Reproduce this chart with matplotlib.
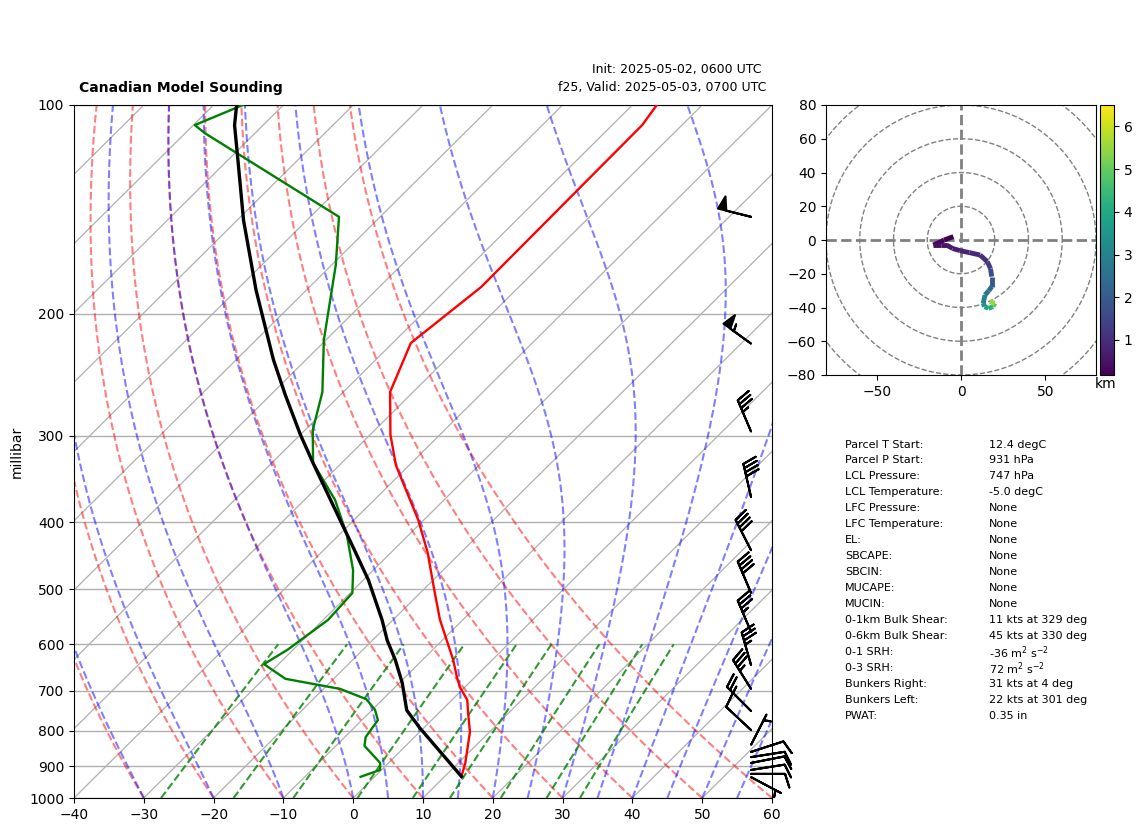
import numpy as np
import matplotlib
matplotlib.use('Agg')
import matplotlib.pyplot as plt
from matplotlib.collections import LineCollection

# sounding
p_temp = [931, 890, 803, 754, 722, 692, 669, 632, 553, 501, 442, 397, 331, 299, 259.5, 220.5, 183, 106.9, 100]
temp = [12.4, 11.0, 7.2, 4.2, 2.2, -0.7, -2.6, -5.6, -13.3, -18.4, -24.8, -30.8, -41.9, -47.1, -53.3, -57.4, -55.4, -55.7, -56.5]

p_dew = [932, 911, 890, 841, 817, 772, 746, 720, 696, 673, 641, 611, 553, 506, 469, 417, 371.5, 328.5, 294.4, 259.5, 218.3, 170.2, 145, 109.8, 106.9, 100]
dewp = [-2.0, -0.2, -1.2, -5.9, -7.0, -7.7, -9.6, -12.4, -17.6, -26.9, -32.1, -30.8, -29.3, -29.7, -32.9, -38.9, -45.6, -54.1, -58.9, -63.0, -70.3, -79.4, -85.9, -117.2, -119.8, -115.8]

p_parcel = [931, 792, 747, 682, 632, 592, 553, 484.5, 436, 397, 328.5, 299, 262, 233, 185, 146.6, 120, 106.9, 100]
t_parcel = [12.4, -0.6, -5.0, -9.6, -13.9, -17.9, -21.6, -29.3, -36.0, -42.0, -54.1, -60.0, -67.9, -74.7, -87.2, -99.1, -108.6, -114.1, -116.7]

# wind barbs
p_wind = [145, 221, 296, 368, 439, 506, 576, 643, 696, 749, 798, 838, 858, 873, 890, 911, 923, 933]
wdir = [284, 306, 337, 347, 333, 337, 337, 344, 328, 315, 313, 27, 72, 81, 79, 81, 90, 118]
wspd = [50, 55, 35, 40, 40, 40, 35, 35, 35, 25, 10, 5, 10, 10, 10, 10, 10, 5]

# hodograph
hodo_u = [-4.5, -10, -16.4, -12, -8.5, -5, -0.6, 5, 11.3, 15.6, 17.5, 18.2, 18.2, 16.5, 14.2, 13.2, 14, 16.2, 19, 20, 17]
hodo_v = [2, 0, -3, -3, -3, -5, -6.3, -7.5, -8.9, -12.8, -17, -21.7, -27.7, -30, -32.6, -37.5, -39.5, -40.5, -39.5, -37.5, -36.6]
hodo_z = [0.2, 0.3, 0.4, 0.5, 0.6, 0.7, 0.8, 0.9, 1.0, 1.3, 1.6, 1.9, 2.3, 2.7, 3.0, 3.4, 3.8, 4.2, 4.8, 5.5, 6.5]
hodo_rings = [20, 40, 60, 80, 100]

# background lines
dry_t0 = [-30, -20, -10, 0, 10, 20, 30, 40, 50, 60]
moist_t0 = [-40, -30, -20, -10, 0, 5, 10, 15, 20, 25, 30, 35, 40, 45, 50, 55]
mix_ratio = [0.0004, 0.001, 0.002, 0.004, 0.007, 0.01, 0.016, 0.024, 0.032]
isotherms = list(range(-140, 70, 10))
x_ticks = [-40, -30, -20, -10, 0, 10, 20, 30, 40, 50, 60]
p_ticks = [100, 200, 300, 400, 500, 600, 700, 800, 900, 1000]

info_labels = ['Parcel T Start:', 'Parcel P Start:', 'LCL Pressure:', 'LCL Temperature:', 'LFC Pressure:',
               'LFC Temperature:', 'EL:', 'SBCAPE:', 'SBCIN:', 'MUCAPE:', 'MUCIN:', '0-1km Bulk Shear:',
               '0-6km Bulk Shear:', '0-1 SRH:', '0-3 SRH:', 'Bunkers Right:', 'Bunkers Left:', 'PWAT:']
info_values = ['12.4 degC', '931 hPa', '747 hPa', '-5.0 degC', 'None', 'None', 'None', 'None', 'None', 'None', 'None',
               '11 kts at 329 deg', '45 kts at 330 deg', r'-36 m$^{2}$ s$^{-2}$', r'72 m$^{2}$ s$^{-2}$',
               '31 kts at 4 deg', '22 kts at 301 deg', '0.35 in']

W, H = 1142, 832
SKEW = 100  # deg C per decade of pressure


def box(x0, y0, x1, y1):
    # pixel box to figure fraction
    return [x0 / W, 1 - y1 / H, (x1 - x0) / W, (y1 - y0) / H]


def skew(t, p):
    return np.asarray(t, dtype=float) + SKEW * np.log10(1000 / np.asarray(p, dtype=float))


def sat_mix(t_k, p):
    es = 6.112 * np.exp(17.67 * (t_k - 273.15) / (t_k - 29.65))
    return 0.622 * es / (p - es)


def moist_curve(t0, p_levels):
    # stepping the moist lapse rate upward from 1000 hPa
    out = [t0 + 273.15]
    for i in range(1, len(p_levels)):
        t_k = out[-1]
        rs = sat_mix(t_k, p_levels[i - 1])
        lv = 2.501e6
        gam = (287.05 * t_k + lv * rs) / (1005.7 + lv ** 2 * rs * 0.622 / (287.05 * t_k ** 2))
        out.append(t_k + gam * np.log(p_levels[i] / p_levels[i - 1]))
    return np.array(out) - 273.15


fig = plt.figure(figsize=(W / 100, H / 100), dpi=100)
ax = fig.add_axes(box(74, 105, 772, 798))

levels = np.geomspace(1000, 100, 400)
for t in isotherms:
    ax.plot(skew(np.full(2, t), [1000, 100]), [1000, 100], color='#b0b0b0', lw=0.9, zorder=1)
for t0 in dry_t0:
    ax.plot(skew((t0 + 273.15) * (levels / 1000) ** 0.2854 - 273.15, levels), levels,
            color='r', ls='--', lw=1.5, alpha=0.5, zorder=2)
for t0 in moist_t0:
    ax.plot(skew(moist_curve(t0, levels), levels), levels, color='b', ls='--', lw=1.5, alpha=0.5, zorder=2)
mix_levels = np.geomspace(1000, 600, 50)
for w in mix_ratio:
    e = mix_levels * w / (0.622 + w)
    td = 243.5 * np.log(e / 6.112) / (17.67 - np.log(e / 6.112))
    ax.plot(skew(td, mix_levels), mix_levels, color='g', ls='--', lw=1.5, alpha=0.8, zorder=2)

ax.plot(skew(temp, p_temp), p_temp, color='r', lw=1.7, zorder=5)
ax.plot(skew(dewp, p_dew), p_dew, color='g', lw=1.7, zorder=5)
ax.plot(skew(t_parcel, p_parcel), p_parcel, color='k', lw=2.4, zorder=6)

rad = np.deg2rad(wdir)
u = -np.array(wspd) * np.sin(rad)
v = -np.array(wspd) * np.cos(rad)
ax.barbs(np.full(len(p_wind), 0.97), p_wind, u, v, transform=ax.get_yaxis_transform(), length=7, linewidth=1.5,
         color='k', clip_on=False, zorder=7)

ax.set_yscale('log')
ax.set_ylim(1000, 100)
ax.set_xlim(-40, 60)
ax.set_xticks(x_ticks)
ax.set_yticks(p_ticks)
ax.set_yticklabels([str(p) for p in p_ticks])
ax.minorticks_off()
ax.yaxis.grid(True, color='#b0b0b0', lw=1, zorder=1)
ax.set_axisbelow(True)
ax.tick_params(labelsize=10)
ax.set_ylabel('millibar', fontsize=10)
ax.yaxis.set_label_coords(-0.072, 0.5)
fig.text(79 / W, 1 - 88 / H, 'Canadian Model Sounding', fontsize=10, fontweight='bold', va='center')
fig.text(766 / W, 1 - 88 / H, 'f25, Valid: 2025-05-03, 0700 UTC', fontsize=9, ha='right', va='center')
fig.text(762 / W, 1 - 70 / H, 'Init: 2025-05-02, 0600 UTC', fontsize=9, ha='right', va='center')

# hodograph
hax = fig.add_axes(box(826, 105, 1096, 375))
th = np.linspace(0, 2 * np.pi, 300)
for r in hodo_rings:
    hax.plot(r * np.cos(th), r * np.sin(th), color='gray', ls='--', lw=1)
hax.axhline(0, color='gray', ls='--', lw=2)
hax.axvline(0, color='gray', ls='--', lw=2)
pts = np.column_stack([hodo_u, hodo_v]).reshape(-1, 1, 2)
segs = np.concatenate([pts[:-1], pts[1:]], axis=1)
lc = LineCollection(segs, cmap='viridis', norm=plt.Normalize(0.18, 6.5), lw=3.5, zorder=4)
lc.set_array(np.array(hodo_z[:-1]))
hax.add_collection(lc)
hax.set_xlim(-80, 80)
hax.set_ylim(-80, 80)
hax.set_xticks([-50, 0, 50])
hax.set_yticks(range(-80, 81, 20))
hax.tick_params(labelsize=10)

cax = fig.add_axes(box(1100, 105, 1114, 375))
cb = fig.colorbar(lc, cax=cax, ticks=[1, 2, 3, 4, 5, 6])
cb.ax.tick_params(labelsize=10)
fig.text(1106 / W, 1 - 384 / H, 'km', fontsize=10, ha='center', va='center')

for i in range(len(info_labels)):
    y = 1 - (444.5 + i * 15.98) / H
    fig.text(845 / W, y, info_labels[i], fontsize=8, va='center')
    fig.text(989 / W, y, info_values[i], fontsize=8, va='center')

fig.savefig('out.png', dpi=100)
